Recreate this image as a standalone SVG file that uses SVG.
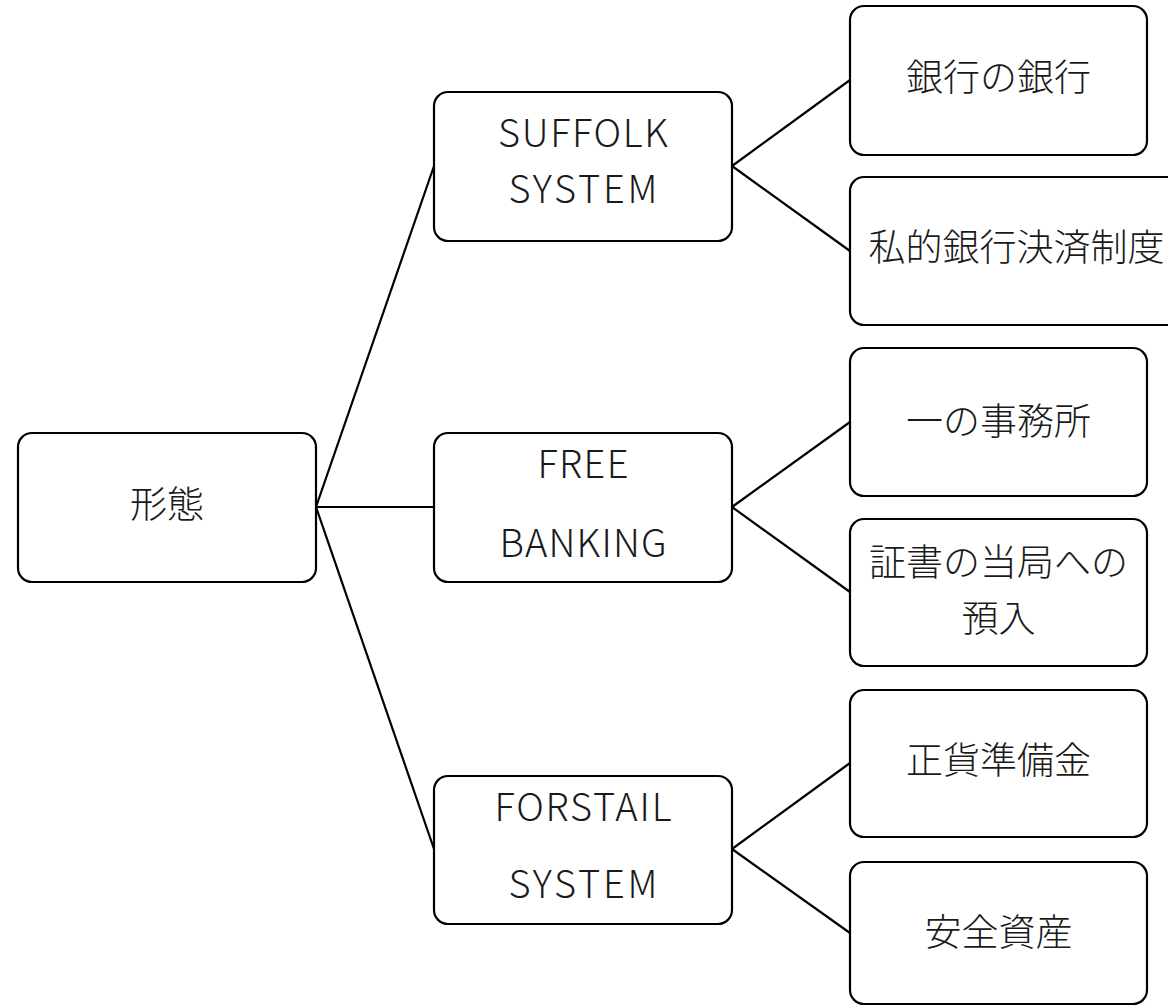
<svg xmlns="http://www.w3.org/2000/svg" width="1168" height="1006" viewBox="0 0 1168 1006">
<style>
.box{fill:#ffffff;stroke:#000000;stroke-width:2.2}
.t{font-family:"Noto Sans CJK JP","Noto Sans",sans-serif;font-size:37px;font-weight:300;fill:#1a1a1a;text-anchor:middle}
.l{font-size:38px}
.c{stroke:#000000;stroke-width:2.2;fill:none}
</style>
<rect width="1168" height="1006" fill="#ffffff"/>
<g id="connectors">
<line class="c" x1="316" y1="507" x2="434" y2="166"/>
<line class="c" x1="316" y1="507" x2="434" y2="507"/>
<line class="c" x1="316" y1="507" x2="434" y2="849"/>
<line class="c" x1="732" y1="166" x2="850" y2="80"/>
<line class="c" x1="732" y1="166" x2="850" y2="251"/>
<line class="c" x1="732" y1="507" x2="850" y2="422"/>
<line class="c" x1="732" y1="507" x2="850" y2="592"/>
<line class="c" x1="732" y1="849" x2="850" y2="763"/>
<line class="c" x1="732" y1="849" x2="850" y2="933"/>
</g>
<g id="n-root">
<rect class="box" x="18" y="433" width="298" height="149" rx="14"/>
<text class="t" x="167" y="518">形態</text>
</g>
<g id="n-suffolk">
<rect class="box" x="434" y="92" width="298" height="149" rx="14"/>
<text class="t l" x="583" y="147" textLength="170" lengthAdjust="spacing">SUFFOLK</text>
<text class="t l" x="583" y="203" textLength="149" lengthAdjust="spacing">SYSTEM</text>
</g>
<g id="n-free">
<rect class="box" x="434" y="433" width="298" height="149" rx="14"/>
<text class="t l" x="583" y="478" textLength="91" lengthAdjust="spacing">FREE</text>
<text class="t l" x="583" y="557" textLength="167" lengthAdjust="spacing">BANKING</text>
</g>
<g id="n-forstail">
<rect class="box" x="434" y="776" width="298" height="148" rx="14"/>
<text class="t l" x="583" y="821" textLength="177" lengthAdjust="spacing">FORSTAIL</text>
<text class="t l" x="583" y="898" textLength="149" lengthAdjust="spacing">SYSTEM</text>
</g>
<g id="n-ginko">
<rect class="box" x="850" y="6" width="297" height="149" rx="14"/>
<text class="t" x="998.5" y="91">銀行の銀行</text>
</g>
<g id="n-shiteki">
<rect class="box" x="850" y="177" width="333" height="148" rx="14"/>
<text class="t" x="1016.5" y="261">私的銀行決済制度</text>
</g>
<g id="n-jimusho">
<rect class="box" x="850" y="348" width="297" height="148" rx="14"/>
<text class="t" x="998.5" y="435">一の事務所</text>
</g>
<g id="n-shosho">
<rect class="box" x="850" y="519" width="297" height="147" rx="14"/>
<text class="t" x="998.5" y="576">証書の当局への</text>
<text class="t" x="998.5" y="632">預入</text>
</g>
<g id="n-seika">
<rect class="box" x="850" y="690" width="297" height="147" rx="14"/>
<text class="t" x="998.5" y="774">正貨準備金</text>
</g>
<g id="n-anzen">
<rect class="box" x="850" y="862" width="297" height="142" rx="14"/>
<text class="t" x="998.5" y="946">安全資産</text>
</g>
</svg>
